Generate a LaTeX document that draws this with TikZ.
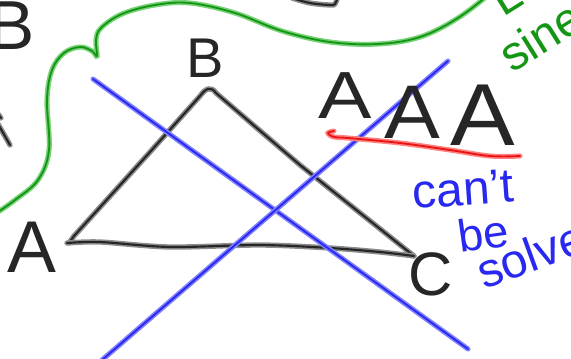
\documentclass[tikz,border=0pt]{standalone}
\usepackage{fontspec}
\setmainfont{Liberation Sans}
\definecolor{inkblue}{RGB}{40,40,240}
\definecolor{haloblue}{RGB}{130,130,255}
\definecolor{inkgreen}{RGB}{20,150,20}
\definecolor{halogreen}{RGB}{120,210,120}
\definecolor{inkred}{RGB}{235,20,20}
\definecolor{halored}{RGB}{255,130,130}
\tikzset{
  blk/.style={draw=black!85, line width=1.6pt, line cap=round, line join=round,
    preaction={draw=black!45, line width=4pt, line cap=round, line join=round}},
  blu/.style={draw=inkblue, line width=1.4pt, line cap=round, line join=round,
    preaction={draw=haloblue, line width=3.8pt, line cap=round}},
  grn/.style={draw=inkgreen, line width=1.4pt, line cap=round, line join=round,
    preaction={draw=halogreen, line width=3.8pt, line cap=round}},
  rd/.style={draw=inkred, line width=1.4pt, line cap=round, line join=round,
    preaction={draw=halored, line width=3.8pt, line cap=round}},
  lbl/.style={inner sep=0pt, text=black!85},
  blulbl/.style={inner sep=0pt, text=inkblue},
  grnlbl/.style={inner sep=0pt, text=inkgreen},
}
\newcommand{\fsz}[1]{\fontsize{#1}{#1}\selectfont}
\begin{document}
\begin{tikzpicture}[x=0.75pt, y=-0.75pt]
\clip (0,0) rectangle (571,358);
\fill[white] (0,0) rectangle (571,358);

% green boundary curve
\draw[grn] plot[smooth, tension=0.6] coordinates {(-5,214) (15,200) (38,180) (49,150) (47,100) (52,70) (64,53) (80,47) (92,51) (97,56) (96,40) (101,28) (122,14) (155,5) (190,3) (235,13) (282,31) (330,42) (378,44) (420,37) (458,18) (492,-8)};

% triangle
\draw[blk] (69,243) -- (74,236) -- (150,152) -- (200,96) .. controls (206,88) and (211,86) .. (216,93) -- (300,165) -- (414,256);
\draw[blk] plot[smooth, tension=0.5] coordinates {(67,243) (100,242) (170,247) (260,245) (330,248) (380,252) (414,256)};

% blue crossing lines
\draw[blu] (93,79) -- (468,349);
\draw[blu] (102,360) -- (448,61);

% red underline
\draw[rd] plot[smooth, tension=0.6] coordinates {(334,131) (328,133) (334,137) (348,138) (400,143) (450,150) (490,156) (520,156)};

% fragments at the edges
\draw[blk] (-2,114) -- (1,118);
\draw[blk] (-2,124) -- (10,145);
\draw[blk] plot[smooth, tension=0.6] coordinates {(292,-2) (310,3) (330,5) (335,4) (337,-1)};

% labels
\node[lbl, font=\fsz{52}] (btl) at (12,26) {B};
\node[lbl, font=\fsz{42}] (bB) at (205,58) {B};
\node[lbl, font=\fsz{55}] (aA) at (32,247) {A};
\node[lbl, font=\fsz{46}] (cC) at (431,274) {C};
\node[lbl, font=\fsz{50}, xscale=1.2] (aaa1) at (345,96) {A};
\node[lbl, font=\fsz{57}, xscale=1.1] (aaa2) at (412,112) {A};
\node[lbl, font=\fsz{66}, xscale=1.1] (aaa3) at (483,115) {A};

\node[blulbl, font=\fsz{36}, rotate=4] (cant) at (463,189) {can't};
\node[blulbl, font=\fsz{34}, rotate=8] (be) at (483,233) {be};
\node[blulbl, font=\fsz{36}, rotate=20, anchor=base west] (solved) at (484,290) {solved};

\node[grnlbl, font=\fsz{36}, rotate=32, anchor=base west] (sine) at (512,74) {sine};
\node[grnlbl, font=\fsz{36}, rotate=32, anchor=base west] (law) at (503,18) {Law};
\end{tikzpicture}
\end{document}
